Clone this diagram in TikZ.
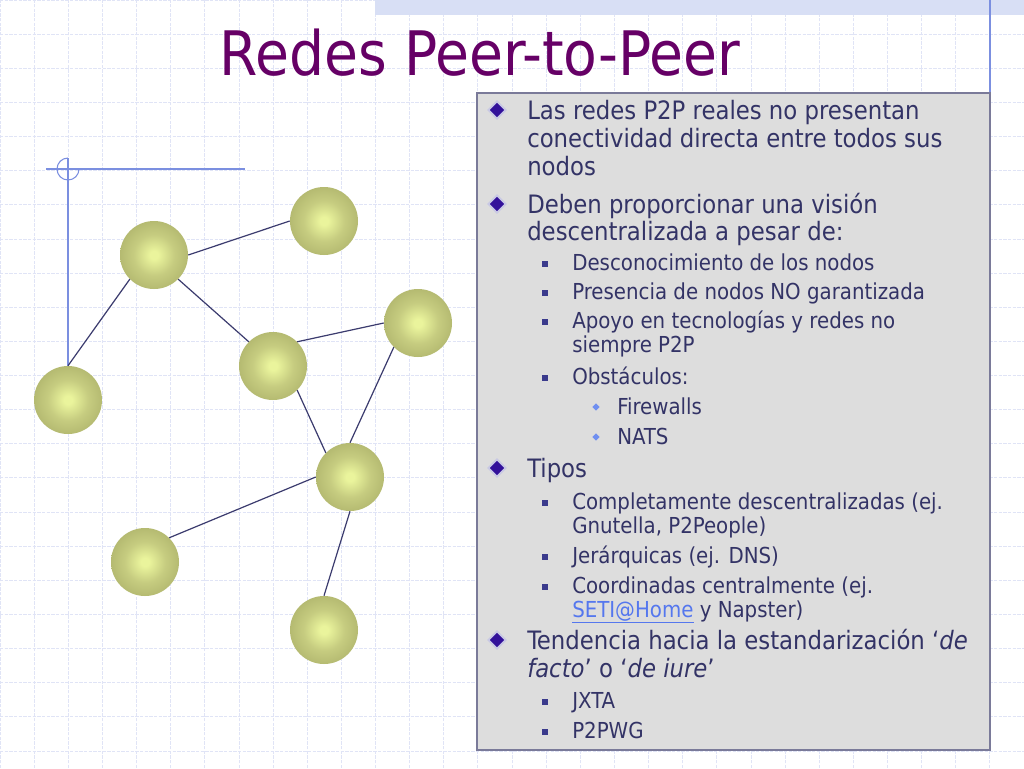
\documentclass[tikz,border=0pt]{standalone}
\usepackage{fontspec}
\setmainfont{DejaVu Sans Condensed}
\usetikzlibrary{shapes.geometric}

\definecolor{rejilla}{HTML}{E0E4F6}
\definecolor{azuldeco}{HTML}{7B8FE0}
\definecolor{franja}{HTML}{D8DFF5}
\definecolor{fondopanel}{HTML}{DDDDDD}
\definecolor{bordepanel}{HTML}{7A7A99}
\definecolor{textoazul}{HTML}{333366}
\definecolor{titulo}{HTML}{660066}
\definecolor{enlace}{HTML}{3B3B6E}
\definecolor{bolaint}{HTML}{EAF49C}
\definecolor{bolaclara}{HTML}{C6CC80}
\definecolor{bolamed}{HTML}{A9AE67}
\definecolor{bolaext}{HTML}{93985A}
\definecolor{vinetauno}{HTML}{33119A}
\definecolor{vinetaborde}{HTML}{C8C8E4}
\definecolor{vinetados}{HTML}{3A3A8C}
\definecolor{vinetatres}{HTML}{6F8FF0}
\definecolor{hipervinculo}{HTML}{5577EE}

\pgfdeclareradialshading{bolapeer}{\pgfpoint{0bp}{0bp}}{color(0bp)=(bolaint); color(3bp)=(bolaint); color(15bp)=(bolaclara); color(32bp)=(bolamed); color(50bp)=(bolaext)}

\tikzset{
  peer/.style={circle, minimum size=51pt, inner sep=0pt, shading=bolapeer},
  arista/.style={draw=enlace, line width=0.9pt},
  deco/.style={draw=azuldeco, line width=0.8pt},
  niveluno/.style={anchor=base west, inner sep=0pt, text=textoazul, font=\fontsize{19}{22}\selectfont},
  niveldos/.style={anchor=base west, inner sep=0pt, text=textoazul, font=\fontsize{16.5}{19}\selectfont},
  niveltres/.style={anchor=base west, inner sep=0pt, text=textoazul, font=\fontsize{16.5}{19}\selectfont},
  vinetaA/.style={diamond, fill=vinetauno, draw=vinetaborde, line width=1.3pt, minimum size=13.5pt, inner sep=0pt},
  vinetaB/.style={rectangle, fill=vinetados, minimum size=4.5pt, inner sep=0pt},
  vinetaC/.style={diamond, fill=vinetatres, minimum size=5.5pt, inner sep=0pt}
}

\begin{document}
\begin{tikzpicture}[x=0.75pt, y=-0.75pt]

\useasboundingbox (0,0) rectangle (1024,768);
\fill[white] (0,0) rectangle (1024,768);
\draw[rejilla, line width=0.6pt, dash pattern=on 2.5pt off 1pt] (0,768) grid[step=25.6pt] (1024,0);

\fill[franja] (375,0) rectangle (1024,15);
\draw[deco] (990,0) -- (990,93);

\node[anchor=base, inner sep=0pt, text=titulo, font=\fontsize{46}{50}\selectfont] (titulo) at (480,75) {Redes Peer-to-Peer};

\node[peer] (nodoA) at (154,255) {};
\node[peer] (nodoB) at (324,221) {};
\node[peer] (nodoC) at (418,323) {};
\node[peer] (nodoD) at (273,366) {};
\node[peer] (nodoE) at (68,400) {};
\node[peer] (nodoF) at (350,477) {};
\node[peer] (nodoG) at (145,562) {};
\node[peer] (nodoH) at (324,630) {};

\coordinate (esquina) at (68,169);
\draw[deco] (46,169) -- (245,169);
\draw[deco] (68,158) -- (nodoE.north);
\draw[deco] (79,169) arc[start angle=0, end angle=270, radius=11];

\draw[arista] (nodoA.east) -- (nodoB.west);
\draw[arista] (nodoA.south east) -- (nodoD.north west);
\draw[arista] (nodoA.south west) -- (nodoE.north);
\draw[arista] (nodoD.north east) -- (nodoC.west);
\draw[arista] (nodoD.south east) -- (nodoF.north west);
\draw[arista] (nodoC.south west) -- (nodoF.north);
\draw[arista] (nodoF.west) -- (nodoG.north east);
\draw[arista] (nodoF.south) -- (nodoH.north);

\draw[draw=bordepanel, line width=1pt, fill=fondopanel] (477,93) rectangle (990,750);

\node[vinetaA] (vineta1) at (497,110) {};
\node[niveluno] (linea1) at (527,119) {Las redes P2P reales no presentan};
\node[niveluno] (linea2) at (527,147) {conectividad directa entre todos sus};
\node[niveluno] (linea3) at (527,175) {nodos};

\node[vinetaA] (vineta2) at (497,204) {};
\node[niveluno] (linea4) at (527,213) {Deben proporcionar una visión};
\node[niveluno] (linea5) at (527,240) {descentralizada a pesar de:};

\node[vinetaB] (vineta3) at (545,264) {};
\node[niveldos] (linea6) at (572,270) {Desconocimiento de los nodos};
\node[vinetaB] (vineta4) at (545,293) {};
\node[niveldos] (linea7) at (572,299) {Presencia de nodos NO garantizada};
\node[vinetaB] (vineta5) at (545,322) {};
\node[niveldos] (linea8) at (572,328) {Apoyo en tecnologías y redes no};
\node[niveldos] (linea9) at (572,352) {siempre P2P};
\node[vinetaB] (vineta6) at (545,378) {};
\node[niveldos] (linea10) at (572,384) {Obstáculos:};

\node[vinetaC] (vineta7) at (596,407) {};
\node[niveltres] (linea11) at (617,414) {Firewalls};
\node[vinetaC] (vineta8) at (596,437) {};
\node[niveltres] (linea12) at (617,444) {NATS};

\node[vinetaA] (vineta9) at (497,468) {};
\node[niveluno] (linea13) at (527,477) {Tipos};

\node[vinetaB] (vineta10) at (545,503) {};
\node[niveldos] (linea14) at (572,509) {Completamente descentralizadas (ej.};
\node[niveldos] (linea15) at (572,533) {Gnutella, P2People)};
\node[vinetaB] (vineta11) at (545,557) {};
\node[niveldos] (linea16) at (572,563) {Jerárquicas (ej. DNS)};
\node[vinetaB] (vineta12) at (545,587) {};
\node[niveldos] (linea17) at (572,593) {Coordinadas centralmente (ej.};
\node[niveldos] (linea18) at (572,617) {\textcolor{hipervinculo}{\underline{SETI@Home}} y Napster)};

\node[vinetaA] (vineta13) at (497,640) {};
\node[niveluno] (linea19) at (527,649) {Tendencia hacia la estandarización ‘\textit{de}};
\node[niveluno] (linea20) at (527,677) {\textit{facto}’ o ‘\textit{de iure}’};

\node[vinetaB] (vineta14) at (545,702) {};
\node[niveldos] (linea21) at (572,708) {JXTA};
\node[vinetaB] (vineta15) at (545,732) {};
\node[niveldos] (linea22) at (572,738) {P2PWG};

\end{tikzpicture}
\end{document}
